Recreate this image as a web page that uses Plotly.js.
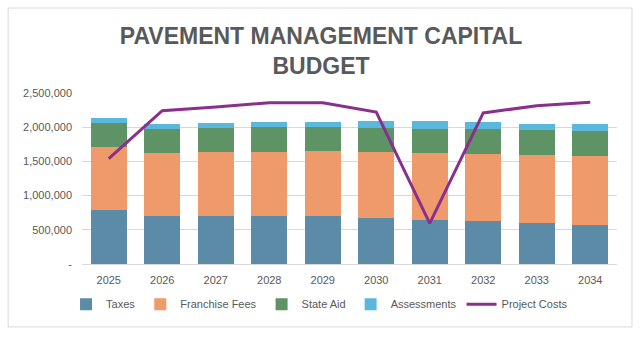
<!DOCTYPE html>
<html>
<head>
<meta charset="utf-8">
<script src="https://cdn.plot.ly/plotly-3.0.1.min.js"></script>
<style>
  html, body { margin: 0; padding: 0; background: #fff; }
  #chart { width: 642px; height: 337px; }
</style>
</head>
<body>
<div id="chart"></div>
<script>
var years = ['2025', '2026', '2027', '2028', '2029', '2030', '2031', '2032', '2033', '2034'];
var taxes = [790000, 702000, 702000, 702000, 702000, 673000, 643000, 629000, 599000, 570000];
var franchiseFees = [921000, 925000, 935000, 935000, 950000, 964000, 980000, 979000, 995000, 1009000];
var stateAid = [355000, 351000, 347000, 366000, 351000, 351000, 351000, 366000, 365000, 365000];
var assessments = [64000, 69000, 77000, 73000, 73000, 103000, 117000, 102000, 88000, 103000];
var projectCosts = [1540000, 2241000, 2295000, 2358000, 2358000, 2222000, 595000, 2208000, 2314000, 2364000];

var yTicks = [0, 500000, 1000000, 1500000, 2000000, 2500000];
var yTickText = ['-', '500,000', '1,000,000', '1,500,000', '2,000,000', '2,500,000'];

var grey = '#595959';

function barTrace(name, values, color) {
    return {
        x: years,
        y: values,
        name: name,
        type: 'bar',
        marker: { color: color }
    };
}

var data = [
    barTrace('Taxes', taxes, '#5b8ba7'),
    barTrace('Franchise Fees', franchiseFees, '#ef9a6b'),
    barTrace('State Aid', stateAid, '#5e9366'),
    barTrace('Assessments', assessments, '#5bb8dd'),
    {
        x: years,
        y: projectCosts,
        name: 'Project Costs',
        type: 'scatter',
        mode: 'lines',
        line: { color: '#8a2f8c', width: 3 }
    }
];

var layout = {
    width: 642,
    height: 337,
    barmode: 'stack',
    bargap: 0.32,
    paper_bgcolor: '#fff',
    plot_bgcolor: '#fff',
    margin: { l: 82, r: 25, t: 93, b: 73 },
    font: { family: 'Liberation Sans, Arial, sans-serif', size: 11, color: grey },
    title: {
        text: 'PAVEMENT MANAGEMENT CAPITAL<br>BUDGET',
        font: { family: 'Liberation Sans, Arial, sans-serif', size: 23, color: grey, weight: 'bold' },
        x: 0.5,
        xanchor: 'center',
        yref: 'container',
        y: 0.87,
        yanchor: 'middle'
    },
    xaxis: {
        type: 'category',
        showgrid: false,
        showline: true,
        linecolor: '#d9d9d9',
        ticks: '',
        ticklabelstandoff: 6,
        tickfont: { size: 11, color: grey }
    },
    yaxis: {
        range: [0, 2500000],
        tickvals: yTicks,
        ticktext: yTickText,
        gridcolor: '#d9d9d9',
        zeroline: false,
        ticks: '',
        ticklabelstandoff: 9,
        tickfont: { size: 11, color: grey }
    },
    legend: {
        orientation: 'h',
        x: 0.444,
        xanchor: 'center',
        y: -0.235,
        yanchor: 'middle',
        traceorder: 'normal',
        font: { size: 11, color: grey }
    },
    shapes: [{
        type: 'rect',
        xref: 'paper',
        yref: 'paper',
        x0: -0.138,
        x1: 1.028,
        y0: -0.368,
        y1: 1.497,
        line: { color: '#d9d9d9', width: 1 },
        fillcolor: 'rgba(0,0,0,0)',
        layer: 'below'
    }],
    showlegend: true
};

Plotly.newPlot('chart', data, layout, { displayModeBar: false, staticPlot: true });
</script>
</body>
</html>
